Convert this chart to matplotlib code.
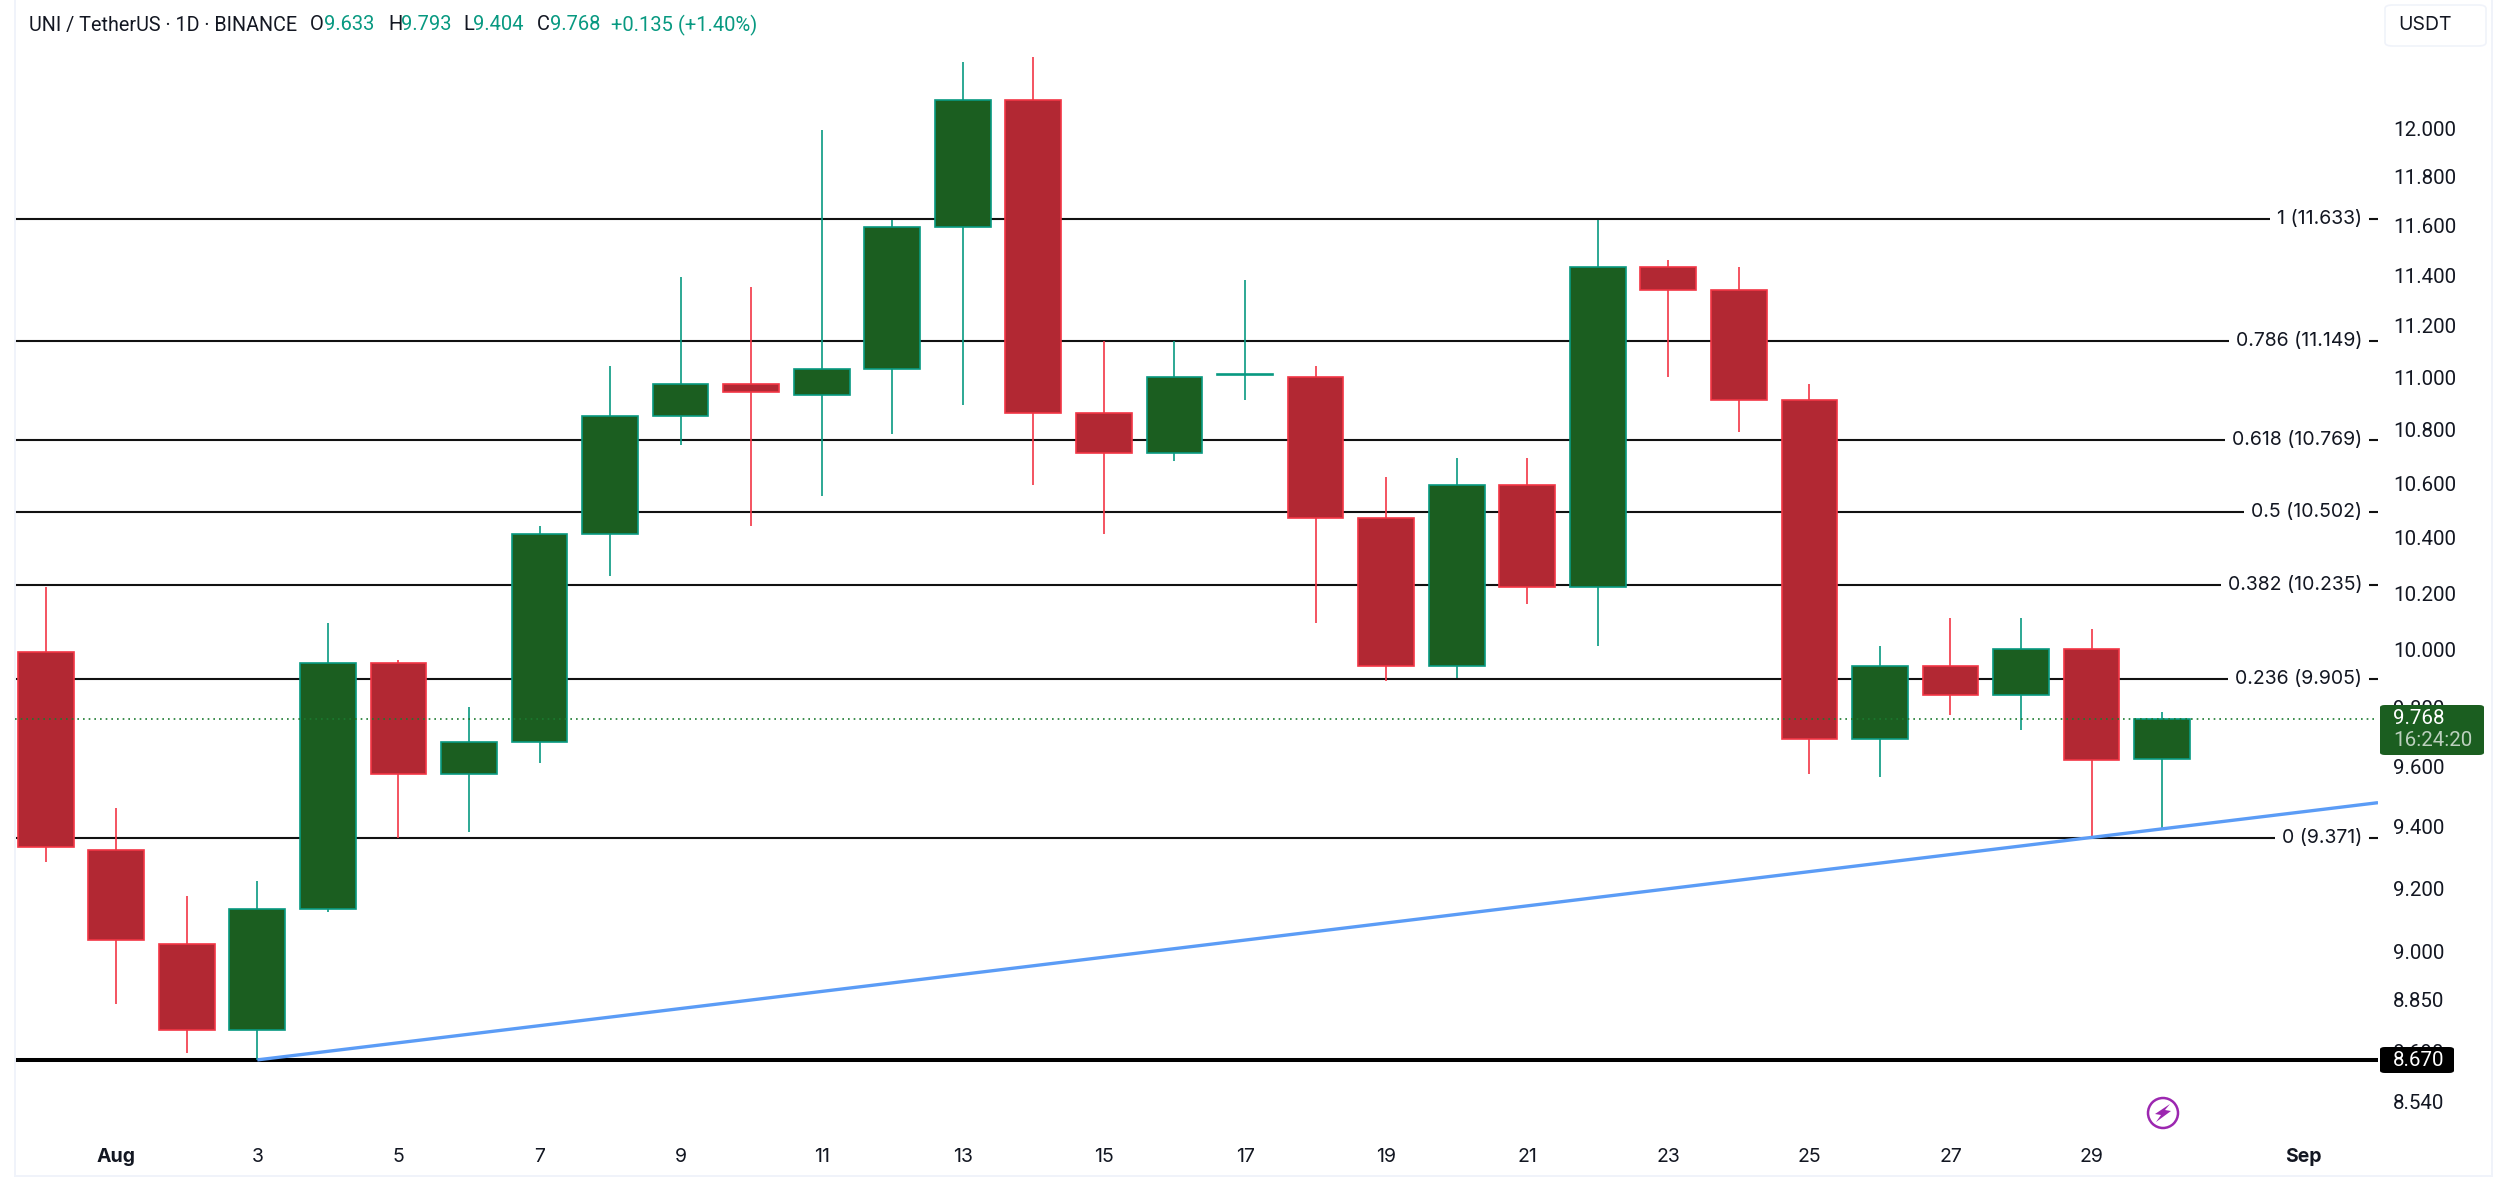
import matplotlib
matplotlib.use("Agg")
import matplotlib.pyplot as plt
from matplotlib.lines import Line2D
from matplotlib.patches import Circle, FancyBboxPatch, Polygon
from matplotlib.ticker import NullFormatter, NullLocator

plt.rcParams["font.family"] = ["Inter", "DejaVu Sans"]

# Jul 31 is day 0, Sep 1 is day 32
days = list(range(0, 31))
opens = [10.00, 9.33, 9.03, 8.76, 9.14, 9.96, 9.58, 9.69, 10.42, 10.86, 10.98, 10.94, 11.04, 11.60, 12.13, 10.87,
         10.72, 11.015, 11.01, 10.48, 9.95, 10.60, 10.23, 11.44, 11.35, 10.92, 9.70, 9.95, 9.85, 10.01, 9.633]
highs = [10.23, 9.47, 9.18, 9.23, 10.10, 9.97, 9.81, 10.45, 11.05, 11.40, 11.36, 12.00, 11.63, 12.29, 12.31, 11.15,
         11.15, 11.39, 11.05, 10.63, 10.70, 10.70, 11.63, 11.47, 11.44, 10.98, 10.02, 10.12, 10.12, 10.08, 9.793]
lows = [9.29, 8.84, 8.69, 8.67, 9.13, 9.37, 9.39, 9.62, 10.27, 10.75, 10.45, 10.56, 10.79, 10.90, 10.60, 10.42,
        10.69, 10.92, 10.10, 9.90, 9.91, 10.17, 10.02, 11.01, 10.80, 9.58, 9.57, 9.78, 9.73, 9.37, 9.404]
closes = [9.34, 9.04, 8.76, 9.14, 9.96, 9.58, 9.69, 10.42, 10.86, 10.98, 10.95, 11.04, 11.60, 12.13, 10.87, 10.72,
          11.01, 11.02, 10.48, 9.95, 10.60, 10.23, 11.44, 11.35, 10.92, 9.70, 9.95, 9.85, 10.01, 9.63, 9.768]

fib_levels = ["1", "0.786", "0.618", "0.5", "0.382", "0.236", "0"]
fib_prices = [11.633, 11.149, 10.769, 10.502, 10.235, 9.905, 9.371]

price_ticks = [12.0, 11.8, 11.6, 11.4, 11.2, 11.0, 10.8, 10.6, 10.4, 10.2, 10.0, 9.8, 9.6, 9.4, 9.2, 9.0, 8.85, 8.69, 8.54]
date_ticks = [1, 3, 5, 7, 9, 11, 13, 15, 17, 19, 21, 23, 25, 27, 29, 32]
date_labels = ["Aug", "3", "5", "7", "9", "11", "13", "15", "17", "19", "21", "23", "25", "27", "29", "Sep"]

last_price = 9.768
support_price = 8.67
trend_start_day = 3
trend_end_price = 9.486

X_MIN, X_MAX = -0.435, 33.06
Y_MIN, Y_MAX = 8.325, 12.56

RED_FILL, RED_EDGE = "#B22833", "#F23645"
GREEN_FILL, GREEN_EDGE = "#1B5E20", "#089981"
TEXT = "#131722"
W, H = 2500, 1196


def fx(px):
    return px / W


def fy(px):
    return 1 - px / H


fig = plt.figure(figsize=(25, 11.96), dpi=100, facecolor="white")
ax = fig.add_axes([fx(15), fy(1176), fx(2378 - 15), fy(0) - fy(1176)])
ax.set_yscale("log")
ax.set_xlim(X_MIN, X_MAX)
ax.set_ylim(Y_MIN, Y_MAX)
ax.yaxis.set_major_locator(NullLocator())
ax.yaxis.set_minor_locator(NullLocator())
ax.yaxis.set_major_formatter(NullFormatter())
ax.yaxis.set_minor_formatter(NullFormatter())
ax.set_xticks([])
for name in ["top", "right"]:
    ax.spines[name].set_visible(False)
for name in ["left", "bottom"]:
    ax.spines[name].set_color("#F0F3FA")
    ax.spines[name].set_linewidth(1.4)

# fib levels, labels sit on a white box so the line breaks around them
for level, price in zip(fib_levels, fib_prices):
    ax.axhline(price, color="#111111", lw=1.5, zorder=1)
    ax.annotate(f"{level} ({price:.3f})", xy=(1, price), xycoords=ax.get_yaxis_transform(),
                xytext=(-16, 0), textcoords="offset pixels", ha="right", va="center",
                fontsize=14, color=TEXT, zorder=2,
                bbox=dict(facecolor="white", edgecolor="none", pad=5))

ax.axhline(support_price, color="black", lw=2.9, zorder=1)

for d, o, h, l, c in zip(days, opens, highs, lows, closes):
    fill, edge = (GREEN_FILL, GREEN_EDGE) if c >= o else (RED_FILL, RED_EDGE)
    ax.vlines(d, l, h, color=edge, lw=1.2, zorder=3)
    ax.bar(d, abs(c - o), bottom=min(o, c), width=0.79, color=fill, edgecolor=edge, linewidth=1.2, zorder=4)

ax.plot([trend_start_day, X_MAX], [support_price, trend_end_price], color="#5B9CF6", lw=2.4, zorder=5,
        solid_capstyle="butt")
ax.axhline(last_price, color="#1B7A30", lw=1.2, ls=(0, (1, 2.4)), zorder=5)

# date axis
for d, label in zip(date_ticks, date_labels):
    bold = label in ("Aug", "Sep")
    ax.text(d, 19 / 1176, label, transform=ax.get_xaxis_transform(), ha="center", va="center",
            fontsize=14, color=TEXT, fontweight="bold" if bold else "normal")

# price axis, Roboto has the even-width digits of the original
for p in price_ticks:
    ax.annotate(f"{p:.3f}", xy=(1, p), xycoords=ax.get_yaxis_transform(), xytext=(15, 0),
                textcoords="offset pixels", ha="left", va="center", fontsize=14.8, color=TEXT,
                family="Roboto", annotation_clip=False)

# panel border on the right of the price axis
fig.add_artist(Line2D([fx(2492), fx(2492)], [fy(0), fy(1176)], color="#F0F3FA", lw=1.4))
fig.add_artist(Line2D([fx(2378), fx(2492)], [fy(1176), fy(1176)], color="#F0F3FA", lw=1.4))


def tag(x0, y0, x1, y1, color):
    fig.add_artist(FancyBboxPatch((fx(x0), fy(y1)), fx(x1 - x0), fy(y0) - fy(y1),
                                  boxstyle="round,pad=0,rounding_size=0.002", transform=fig.transFigure,
                                  facecolor=color, edgecolor="none", zorder=10))


tag(2380, 705, 2484, 755, GREEN_FILL)
fig.text(fx(2393), fy(719), f"{last_price:.3f}", fontsize=14.8, color="white", va="center", zorder=11, family="Roboto")
fig.text(fx(2393), fy(741), "16:24:20", fontsize=14.8, color="#BCD0BE", va="center", zorder=11, family="Roboto")

tag(2380, 1047, 2454, 1073, "black")
fig.text(fx(2393), fy(1060), f"{support_price:.3f}", fontsize=14.8, color="white", va="center", zorder=11, family="Roboto")

# USDT button
fig.add_artist(FancyBboxPatch((fx(2385), fy(46)), fx(101), fy(5) - fy(46),
                              boxstyle="round,pad=0,rounding_size=0.003", transform=fig.transFigure,
                              facecolor="white", edgecolor="#F0F3FA", lw=1.2))
fig.text(fx(2425), fy(25), "USDT", fontsize=14, color=TEXT, ha="center", va="center")

# header
header = [(29, "UNI / TetherUS · 1D · BINANCE", TEXT), (310, "O", TEXT), (324, "9.633", GREEN_EDGE),
          (388, "H", TEXT), (401, "9.793", GREEN_EDGE), (463, "L", TEXT), (473, "9.404", GREEN_EDGE),
          (537, "C", TEXT), (550, "9.768", GREEN_EDGE), (611, "+0.135 (+1.40%)", GREEN_EDGE)]
for x, s, color in header:
    fig.text(fx(x), fy(25), s, fontsize=14.2 if x == 29 else 14.5, color=color, va="center", family="Roboto")

# lightning mark
cx, cy = 2163, 1113
fig.add_artist(Circle((cx, H - cy), 15, transform=None, facecolor="white", edgecolor="#9C27B0", lw=1.8))
bolt = [(cx + 7, cy - 9), (cx - 8, cy + 1), (cx - 2, cy + 2), (cx - 7, cy + 9), (cx + 8, cy - 2), (cx + 2, cy - 3)]
fig.add_artist(Polygon([(x, H - y) for x, y in bolt], closed=True, transform=None, facecolor="#9C27B0",
                       edgecolor="none"))

fig.savefig("out.png", dpi=100)
